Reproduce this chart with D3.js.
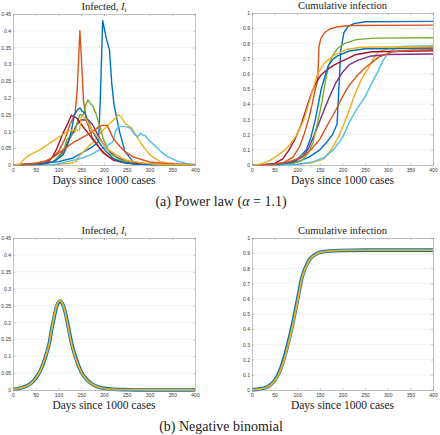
<!DOCTYPE html>
<html><head><meta charset="utf-8">
<script src="https://cdn.jsdelivr.net/npm/d3@7"></script>
<style>
body{margin:0;background:#fff;}
svg{display:block;}
</style></head>
<body>
<script>
// ---------- DATA ----------
const xTicks = [0,50,100,150,200,250,300,350,400];
const yTicksInf = [0,0.05,0.1,0.15,0.2,0.25,0.3,0.35,0.4,0.45];
const yTicksCum = [0,0.1,0.2,0.3,0.4,0.5,0.6,0.7,0.8,0.9,1];
const seriesColors = ["#0072BD","#D95319","#EDB120","#7E2F8E","#77AC30","#4DBEEE","#A2142F","#0072BD","#D95319","#EDB120"];

// Power law: infected I_t, [day, value]
const infBlue1 = [[0,0],[50,0.003],[100,0.01],[130,0.02],[150,0.035],[170,0.05],[180,0.06],[188,0.07],[192,0.2],[197,0.43],[205,0.378],[212,0.343],[217,0.244],[222,0.18],[228,0.14],[235,0.095],[246,0.04],[264,0.01],[300,0.002],[400,0]];
const infOrange1 = [[0,0],[50,0.005],[80,0.015],[100,0.04],[115,0.08],[125,0.12],[136,0.15],[141,0.22],[147,0.40],[151,0.3],[155,0.19],[162,0.13],[175,0.08],[190,0.05],[210,0.025],[235,0.01],[270,0.003],[320,0.001],[400,0]];
const infYellow1 = [[0,0],[100,0.002],[125,0.005],[139,0.01],[145,0.025],[155,0.04],[170,0.06],[185,0.08],[195,0.1],[210,0.12],[221,0.134],[232,0.149],[240,0.14],[246,0.124],[261,0.11],[272,0.084],[287,0.054],[301,0.03],[323,0.01],[360,0.003],[400,0.001]];
const infPurple = [[0,0],[60,0.002],[90,0.01],[110,0.04],[125,0.08],[140,0.12],[150,0.135],[158,0.134],[165,0.135],[175,0.12],[190,0.08],[205,0.05],[225,0.025],[250,0.01],[290,0.003],[400,0]];
const infGreen = [[0,0],[50,0.002],[88,0.01],[110,0.035],[118,0.075],[130,0.09],[136,0.1],[142,0.13],[147,0.15],[155,0.15],[160,0.18],[165,0.194],[169,0.185],[176,0.175],[183,0.15],[191,0.115],[199,0.075],[213,0.035],[235,0.015],[270,0.004],[320,0.001],[400,0]];
const infLightBlue = [[0,0],[90,0.001],[120,0.01],[150,0.02],[170,0.03],[190,0.045],[210,0.06],[220,0.07],[225,0.1],[232,0.115],[245,0.115],[258,0.11],[268,0.09],[275,0.085],[280,0.095],[285,0.09],[290,0.088],[298,0.075],[310,0.06],[325,0.04],[340,0.025],[360,0.012],[380,0.005],[400,0.002]];
const infDarkRed = [[0,0],[40,0.002],[73,0.005],[85,0.02],[95,0.045],[110,0.095],[121,0.125],[128,0.148],[140,0.14],[154,0.114],[165,0.095],[176,0.075],[188,0.055],[199,0.035],[220,0.015],[250,0.005],[300,0.001],[400,0]];
const infBlue2 = [[0,0],[60,0.003],[90,0.01],[110,0.03],[120,0.06],[128,0.1],[135,0.15],[142,0.165],[147,0.17],[152,0.16],[158,0.155],[165,0.13],[175,0.1],[190,0.065],[205,0.04],[220,0.02],[240,0.008],[270,0.002],[400,0]];
const infOrange2 = [[0,0],[40,0.003],[70,0.01],[90,0.025],[110,0.045],[130,0.065],[150,0.08],[170,0.095],[185,0.11],[195,0.118],[207,0.118],[220,0.08],[235,0.055],[246,0.04],[264,0.024],[300,0.009],[340,0.004],[400,0.001]];
const infYellow2 = [[0,0],[15,0.002],[25,0.018],[37,0.03],[59,0.045],[81,0.065],[103,0.085],[120,0.1],[132,0.104],[146,0.104],[151,0.149],[162,0.134],[176,0.1],[191,0.075],[205,0.05],[227,0.03],[249,0.015],[277,0.007],[320,0.002],[400,0]];

// Power law: cumulative infection, [day, value]
const cumBlue1 = [[0,0],[50,0.003],[100,0.02],[125,0.05],[150,0.1],[165,0.15],[178,0.2],[188,0.27],[192,0.5],[196,0.75],[203,0.87],[212,0.91],[225,0.93],[250,0.942],[400,0.945]];
const cumOrange1 = [[0,0],[40,0.003],[70,0.015],[90,0.05],[105,0.12],[115,0.2],[125,0.3],[133,0.4],[140,0.5],[145,0.55],[148,0.78],[152,0.83],[160,0.87],[172,0.895],[190,0.91],[220,0.918],[400,0.92]];
const cumYellow1 = [[0,0],[100,0.005],[130,0.015],[155,0.035],[160,0.045],[175,0.1],[192,0.19],[210,0.32],[228,0.47],[243,0.57],[258,0.64],[270,0.71],[280,0.745],[300,0.765],[400,0.768]];
const cumPurple = [[0,0],[60,0.003],[90,0.015],[112,0.055],[125,0.11],[141,0.22],[155,0.33],[170,0.44],[185,0.54],[200,0.61],[215,0.66],[235,0.69],[260,0.715],[300,0.727],[400,0.73]];
const cumGreen = [[0,0],[60,0.003],[90,0.01],[110,0.03],[125,0.08],[135,0.15],[145,0.28],[155,0.42],[162,0.55],[170,0.66],[178,0.72],[190,0.77],[205,0.8],[230,0.825],[270,0.835],[400,0.837]];
const cumLightBlue = [[0,0],[100,0.003],[137,0.022],[160,0.05],[180,0.1],[200,0.18],[214,0.275],[230,0.36],[250,0.45],[265,0.54],[280,0.626],[290,0.69],[301,0.736],[315,0.765],[331,0.78],[400,0.785]];
const cumDarkRed = [[0,0],[30,0.003],[50,0.01],[68,0.04],[82,0.1],[95,0.17],[108,0.26],[119,0.36],[130,0.46],[141,0.54],[152,0.59],[163,0.62],[180,0.655],[200,0.685],[228,0.725],[265,0.745],[400,0.752]];
const cumBlue2 = [[0,0],[60,0.005],[90,0.02],[105,0.05],[120,0.1],[130,0.18],[140,0.3],[153,0.5],[168,0.65],[180,0.7],[190,0.72],[215,0.75],[250,0.765],[400,0.77]];
const cumOrange2 = [[0,0],[50,0.005],[80,0.02],[110,0.05],[130,0.1],[150,0.17],[170,0.28],[185,0.36],[200,0.45],[214,0.52],[230,0.58],[250,0.64],[280,0.71],[310,0.745],[350,0.755],[400,0.758]];
const cumYellow2 = [[0,0],[10,0.002],[20,0.008],[40,0.03],[60,0.07],[80,0.12],[100,0.2],[115,0.3],[130,0.45],[145,0.6],[160,0.67],[180,0.72],[210,0.76],[240,0.775],[400,0.78]];

// Negative binomial
const nbDays = [0,10,20,30,40,50,55,60,72,80,85,90,95,100,104,108,114,120,129,140,151,160,170,180,190,200,220,250,300,400];
const nbInfBlue = [0.002,0.004,0.007,0.012,0.02,0.035,0.045,0.057,0.1,0.14,0.18,0.213,0.243,0.26,0.263,0.257,0.235,0.197,0.137,0.087,0.051,0.034,0.021,0.013,0.008,0.005,0.002,0.001,0,0];
const nbInfYellow = [0.002,0.004,0.007,0.012,0.02,0.035,0.045,0.057,0.1,0.14,0.18,0.215,0.245,0.262,0.265,0.258,0.235,0.195,0.135,0.085,0.05,0.033,0.021,0.013,0.008,0.005,0.002,0.001,0,0];
const nbCumDays = [0,10,20,30,40,50,60,70,80,88,95,103,110,118,128,140,150,170,200,250,400];
const nbCumBlue = [0.002,0.004,0.009,0.016,0.032,0.063,0.115,0.2,0.31,0.41,0.51,0.63,0.735,0.805,0.862,0.892,0.906,0.914,0.918,0.92,0.92];
const nbCumYellow = [0.002,0.004,0.008,0.015,0.03,0.06,0.11,0.19,0.3,0.4,0.5,0.62,0.73,0.8,0.86,0.89,0.905,0.913,0.918,0.92,0.92];

const powerInf = [infBlue1,infOrange1,infYellow1,infPurple,infGreen,infLightBlue,infDarkRed,infBlue2,infOrange2,infYellow2];
const powerCum = [cumBlue1,cumOrange1,cumYellow1,cumPurple,cumGreen,cumLightBlue,cumDarkRed,cumBlue2,cumOrange2,cumYellow2];

// ---------- DRAW ----------
const W = 440, H = 435;
const SERIF = "'Liberation Serif','DejaVu Serif',serif";
const SANS = "'Liberation Sans','DejaVu Sans',sans-serif";
const svg = d3.select("body").append("svg").attr("width",W).attr("height",H);

function ttl(g, x, y, size){
  return g.append("text").attr("x",x).attr("y",y).attr("text-anchor","middle")
    .style("font-family",SERIF).style("font-size",size+"px").style("fill","#222");
}

function panel(opt){
  const x = d3.scaleLinear().domain([0,400]).range([opt.x0,opt.x1]);
  const y = d3.scaleLinear().domain([0,opt.ymax]).range([opt.y1,opt.y0]);
  const g = svg.append("g");
  g.selectAll("line.grid").data(opt.yTicks.slice(1,-1)).enter().append("line")
    .attr("x1",opt.x0).attr("x2",opt.x1).attr("y1",d=>y(d)).attr("y2",d=>y(d))
    .attr("stroke","#d4d4d4").attr("stroke-width",0.6).attr("stroke-dasharray","1,1");
  const lineGen = d3.line().x(d=>x(d[0])).y(d=>y(d[1])).curve(opt.curve||d3.curveLinear);
  opt.series.forEach(s=>{
    g.append("path").datum(s.data).attr("d",lineGen).attr("fill","none")
      .attr("stroke",s.color).attr("stroke-width",s.width).attr("stroke-linejoin","round");
  });
  const fmt = d=>String(+d.toFixed(2));
  const ax = g.append("g").attr("transform",`translate(0,${opt.y1})`)
    .call(d3.axisBottom(x).tickValues(xTicks).tickSize(-2).tickPadding(3).tickFormat(d=>d));
  const axT = g.append("g").attr("transform",`translate(0,${opt.y0})`)
    .call(d3.axisTop(x).tickValues(xTicks).tickSize(-2).tickFormat(""));
  const ay = g.append("g").attr("transform",`translate(${opt.x0},0)`)
    .call(d3.axisLeft(y).tickValues(opt.yTicks).tickSize(-2).tickPadding(2).tickFormat(fmt));
  const ayR = g.append("g").attr("transform",`translate(${opt.x1},0)`)
    .call(d3.axisRight(y).tickValues(opt.yTicks).tickSize(-2).tickFormat(""));
  [ax,axT,ay,ayR].forEach(a=>{
    a.attr("font-family",SANS).attr("font-size",5);
    a.selectAll(".tick text").attr("fill","#333");
    a.select(".domain").attr("stroke","#9a9a9a").attr("stroke-width",0.6);
    a.selectAll(".tick line").attr("stroke","#9a9a9a").attr("stroke-width",0.5);
  });
  const cx = (opt.x0+opt.x1)/2;
  const t = ttl(g, cx, opt.y0-4, 10.5);
  if(opt.inf){
    t.append("tspan").text("Infected, ");
    t.append("tspan").attr("font-style","italic").text("I");
    t.append("tspan").attr("font-style","italic").attr("dy",2).style("font-size","7px").text("t");
  } else t.text("Cumulative infection");
  ttl(g, cx, opt.y1+19, 11.5).text("Days since 1000 cases");
}

const pl = {x0:13,x1:195}, pr = {x0:252,x1:433};
panel({...pl,y0:14,y1:165,ymax:0.45,yTicks:yTicksInf,inf:true,
  series:powerInf.map((d,i)=>({data:d,color:seriesColors[i],width:1.4}))});
panel({...pr,y0:13,y1:165,ymax:1,yTicks:yTicksCum,inf:false,
  series:powerCum.map((d,i)=>({data:d,color:seriesColors[i],width:1.4}))});
panel({...pl,y0:238,y1:390,ymax:0.45,yTicks:yTicksInf,inf:true,curve:d3.curveMonotoneX,
  series:[{data:nbDays.map((d,i)=>[d,nbInfBlue[i]]),color:seriesColors[0],width:3.6},
          {data:nbDays.map((d,i)=>[d,nbInfYellow[i]]),color:seriesColors[2],width:1.8}]});
panel({...pr,y0:238,y1:390,ymax:1,yTicks:yTicksCum,inf:false,curve:d3.curveMonotoneX,
  series:[{data:nbCumDays.map((d,i)=>[d,nbCumBlue[i]]),color:seriesColors[0],width:3.6},
          {data:nbCumDays.map((d,i)=>[d,nbCumYellow[i]]),color:seriesColors[2],width:1.8}]});

const cap1 = ttl(svg, 221, 206, 14);
cap1.append("tspan").text("(a) Power law (");
cap1.append("tspan").attr("font-style","italic").text("α");
cap1.append("tspan").text(" = 1.1)");
ttl(svg, 221, 431, 14).text("(b) Negative binomial");
</script>
</body></html>
